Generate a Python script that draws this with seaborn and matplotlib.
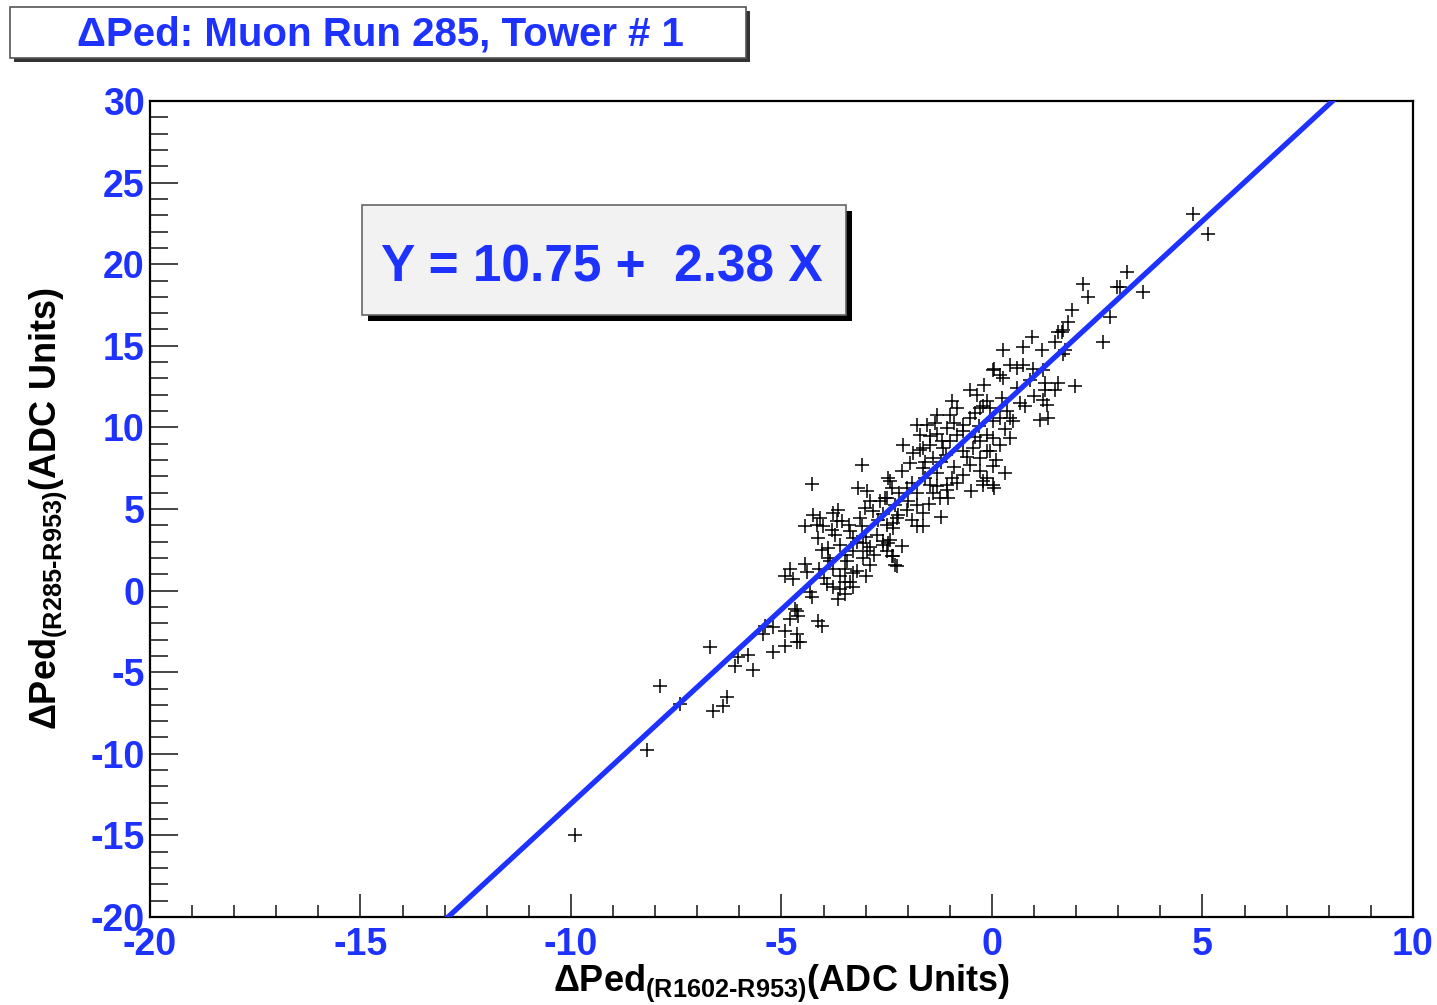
import numpy as np
import matplotlib
matplotlib.use("Agg")
import matplotlib.pyplot as plt
from matplotlib.patches import Rectangle
from matplotlib.ticker import MultipleLocator
import seaborn as sns

# pedestal shifts (ADC units)
dped_x = [
    -6.70, -7.89, -7.41, -8.19, -9.90, -6.63, -6.39, -6.29, -6.10, -6.03, -5.80, -5.68, -5.20,
    -5.44, -5.39, -5.20, -4.92, -4.92, -4.80, -4.63, -4.63, -4.63, -4.13, -4.04, -4.56,
    -4.28, -4.80, -4.72, -4.92, -4.44, -4.39, -4.32, -4.28, -4.68, -4.61, -4.44, -4.25, -4.16,
    -4.09, -4.01, -4.13, -4.04, -3.90, -3.78, -3.66, -3.68, -3.56, -3.73, -3.61, -3.85, -3.78,
    -3.92, -3.78, -3.61, -3.66, -3.49, -3.37, -3.30, -3.49, -3.44, -3.37, -3.30, -3.14, -3.09,
    -3.18, -2.97, -2.90, -3.02, -2.83, -3.06, -2.97, -3.06, -2.90, -2.66, -2.54, -2.47, -2.38,
    -2.59, -2.47, -2.38, -2.30, -2.73, -2.35, -2.23, -3.09,
    -2.11, -1.88, -1.71, -1.47, -1.16, -1.00, -2.14, -2.42, -1.95, -1.64, -1.40, -2.02, -1.78,
    -1.47, -1.40, -1.07, -0.95, -0.83, -1.24, -1.05, -1.07, -2.49, -2.30, -2.02, -1.78, -1.64,
    -1.90, -1.78, -1.64, -2.26, -2.35, -2.59, -2.42, -2.14, -2.35, -2.26, -2.49, -0.69, -0.45,
    -0.29, -0.52, -0.29, -0.12, 0.02, -0.21, -0.69,
    -1.64, -1.47, -1.71, -1.31, -1.35, -0.95, -0.83, -1.00, -0.52, -0.36, -0.69, -0.52, -0.83,
    -1.07, -1.19, -0.29, -0.12, 0.02, -1.78, -1.54, -0.29, -0.12,
    1.81, 1.66, 1.57, 0.95, 0.74, 0.26, 1.19, 1.50, 1.69, 0.05, 0.19, 0.43, 0.59, 0.74, 0.97,
    0.26, 1.21, 1.26, 1.26, 1.57, 1.50, 1.97, 1.21, 1.31, 1.14, 1.33, 0.67, 0.78, 0.24, -0.05,
    -0.21, 0.36, 0.43, 0.50, 0.02, 0.19, -0.12, 0.02, 0.19, 0.43, -0.05, 0.02, -0.21, 0.05,
    4.77, 5.13, 3.21, 2.16, 2.97, 3.04, 2.28, 3.59, 1.90, 1.69, 2.80, 2.64, 1.73,
    -3.20, -3.00, -2.90, -3.30, -3.50, -3.20, -3.00, -3.60, -4.00, -3.90, -2.80, -2.70, -2.50,
    -3.40, -3.80, -4.10, -3.50, -3.30,
    -2.00, -1.90, -1.60, -1.30, -1.20, -0.90, -1.50, -1.30, -0.70, -0.40, -0.60, -1.10, -1.30,
    -0.90, -0.30, 0.30, -0.40, -1.60, -2.20, -2.60, -1.20, -0.50, 0.10, 0.30, -0.20, 0.60,
    0.90, 1.00,
]
dped_y = [
    -3.45, -5.85, -6.96, -9.79, -14.96, -7.39, -7.08, -6.53, -4.62, -4.06, -3.94, -4.86, -3.76,
    -2.65, -2.16, -2.22, -2.46, -3.39, -1.72, -1.23, -2.65, -3.14, -1.85, -2.16, -3.14,
    6.53, 1.35, 0.74, 0.92, 1.66, 1.17, -0.06, -0.37, -1.11, -1.54, 3.94, 4.62, 4.00,
    4.43, 3.94, 3.20, 2.46, 2.59, 4.74, 4.93, 4.25, 4.25, 3.39, 2.77, 1.79, 1.35,
    0.43, 0.25, 0.12, -0.49, 0.55, 0.55, 1.05, 1.35, 1.79, 3.63, 3.20, 4.43, 3.94,
    6.28, 6.10, 5.48, 5.05, 4.86, 2.89, 2.40, 1.97, 1.54, 5.48, 5.67, 6.90, 6.28,
    3.02, 2.89, 2.09, 1.54, 3.39, 3.82, 4.62, 7.70,
    8.93, 8.44, 8.62, 8.93, 8.74, 9.17, 7.33, 6.71, 7.82, 7.51, 8.13, 6.28, 5.97,
    6.47, 5.97, 6.47, 6.90, 6.59, 5.67, 5.67, 6.16, 5.67, 5.23, 4.93, 5.23, 4.74,
    4.31, 3.94, 3.94, 4.43, 4.13, 2.77, 3.08, 2.71, 2.09, 1.48, 2.40, 8.56, 8.74,
    8.13, 7.70, 7.33, 6.90, 6.47, 6.47, 7.08,
    8.74, 9.48, 9.54, 10.78, 10.28, 11.64, 11.21, 10.78, 12.32, 12.00, 10.16, 10.59, 9.54,
    9.98, 9.17, 11.21, 11.64, 13.49, 10.16, 10.16, 9.17, 8.56,
    16.44, 15.83, 15.83, 15.52, 14.90, 14.72, 14.72, 15.21, 14.47, 13.55, 13.24, 13.85, 13.67, 13.85, 13.55,
    13.05, 13.49, 12.75, 12.32, 12.75, 12.32, 12.56, 11.70, 11.39, 10.47, 10.59, 11.51, 11.33, 11.82, 11.21,
    11.33, 11.02, 10.59, 10.41, 10.41, 10.59, 9.54, 9.36, 8.93, 9.36, 8.56, 7.64, 6.71, 6.30,
    23.09, 21.86, 19.52, 18.78, 18.60, 18.60, 17.98, 18.29, 17.18, 15.95, 16.75, 15.21, 14.72,
    3.00, 3.30, 2.70, 2.40, 2.20, 1.20, 0.90, 0.90, 0.80, 2.00, 2.20, 4.30, 4.00,
    4.00, 3.70, 1.30, -0.20, 0.20,
    5.50, 6.60, 6.90, 7.20, 7.90, 7.60, 5.30, 6.40, 9.80, 9.40, 8.20, 8.30, 9.60,
    10.30, 10.10, 9.90, 10.90, 7.90, 6.00, 4.70, 4.50, 6.10, 8.00, 7.20, 12.60, 12.40,
    12.90, 11.90,
]

fit_intercept = 10.75
fit_slope = 2.38
x_limits = [-20, 10]
y_limits = [-20, 30]

title_text = "\u0394Ped: Muon Run 285, Tower # 1"
x_label = "\u0394Ped$_{\\mathregular{(R1602\u2010R953)}}$(ADC Units)"
y_label = "\u0394Ped$_{\\mathregular{(R285\u2010R953)}}$(ADC Units)"

blue = "#1e32ff"

sns.set_style("white")
plt.rcParams["font.family"] = ["Liberation Sans", "DejaVu Sans"]
plt.rcParams["font.weight"] = "bold"
plt.rcParams["mathtext.fontset"] = "custom"
plt.rcParams["mathtext.rm"] = "Liberation Sans:bold"
plt.rcParams["mathtext.default"] = "regular"
plt.rcParams["axes.unicode_minus"] = False

fig = plt.figure(figsize=(14.37, 10.05), dpi=100)
ax = fig.add_axes([150 / 1437, 1 - 917 / 1005, 1263 / 1437, 816 / 1005])

fit_x = np.array(x_limits, dtype=float)
fit_y = fit_intercept + fit_slope * fit_x
sns.lineplot(x=fit_x, y=fit_y, ax=ax, color=blue, linewidth=3.8, zorder=3)
sns.scatterplot(x=dped_x, y=dped_y, ax=ax, marker="+", color="black",
                s=115, linewidth=1.1, zorder=2)

ax.set_xlim(x_limits)
ax.set_ylim(y_limits)
ax.xaxis.set_major_locator(MultipleLocator(5))
ax.xaxis.set_minor_locator(MultipleLocator(1))
ax.yaxis.set_major_locator(MultipleLocator(5))
ax.yaxis.set_minor_locator(MultipleLocator(1))
ax.tick_params(axis="x", which="major", direction="in", length=16.5, width=1.2,
               labelsize=27, labelcolor=blue, pad=7, bottom=True, top=False)
ax.tick_params(axis="x", which="minor", direction="in", length=8.5, width=1.2,
               bottom=True, top=False)
ax.tick_params(axis="y", which="major", direction="in", length=20, width=1.2,
               labelsize=27, labelcolor=blue, pad=4, left=True, right=False)
ax.tick_params(axis="y", which="minor", direction="in", length=13, width=1.2,
               left=True, right=False)
for lbl in ax.get_xticklabels() + ax.get_yticklabels():
    lbl.set_fontweight("bold")
for sp in ax.spines.values():
    sp.set_color("black")
    sp.set_linewidth(1.6)

ax.set_xlabel(x_label, fontsize=26, fontweight="bold", color="black", labelpad=0)
ax.set_ylabel(y_label, fontsize=26, fontweight="bold", color="black", labelpad=15)

# title box with shadow
fig.patches.append(Rectangle((14 / 1437, 1 - 62 / 1005), 736 / 1437, 51 / 1005,
                             transform=fig.transFigure, facecolor="#333333", edgecolor="none"))
fig.patches.append(Rectangle((10 / 1437, 1 - 58 / 1005), 736 / 1437, 51 / 1005,
                             transform=fig.transFigure, facecolor="white",
                             edgecolor="#555555", linewidth=1.2))
fig.text(380 / 1437, 1 - 34 / 1005, title_text, ha="center", va="center",
         fontsize=29, fontweight="bold", color=blue)

# fit result box with shadow
fig.patches.append(Rectangle((368 / 1437, 1 - 321 / 1005), 484 / 1437, 110 / 1005,
                             transform=fig.transFigure, facecolor="black", edgecolor="none",
                             zorder=5))
fig.patches.append(Rectangle((362 / 1437, 1 - 315 / 1005), 484 / 1437, 110 / 1005,
                             transform=fig.transFigure, facecolor="#f2f2f2",
                             edgecolor="#666666", linewidth=1.2, zorder=6))
fig.text(602 / 1437, 1 - 268 / 1005, f"Y = {fit_intercept:.2f} +  {fit_slope:.2f} X",
         ha="center", va="center", fontsize=37, fontweight="bold", color=blue, zorder=7)

fig.savefig("out.png", dpi=100)
